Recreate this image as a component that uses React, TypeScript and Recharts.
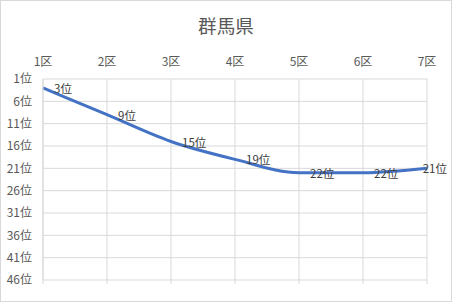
import React from 'react';
import { LineChart, Line, XAxis, YAxis, CartesianGrid, LabelList } from 'recharts';

const categories = ['1区', '2区', '3区', '4区', '5区', '6区', '7区'];
const ranks = [3, 9, 15, 19, 22, 22, 21];
const yTicks = [1, 6, 11, 16, 21, 26, 31, 36, 41, 46];
const title = '群馬県';

const data = categories.map((c, i) => ({ name: c, rank: ranks[i] }));

const FONT = '"Noto Sans CJK JP", "Noto Sans", sans-serif';

export default function App() {
  return (
    <div style={{ position: 'absolute', left: 0, top: 0, width: 452, height: 302, background: '#fff', fontFamily: FONT }}>
      <LineChart width={452} height={302} data={data} margin={{ top: 45, right: 25, bottom: 12, left: 0 }}>
        <CartesianGrid stroke="#d9d9d9" strokeWidth={1} />
        <XAxis
          dataKey="name"
          orientation="top"
          height={34}
          axisLine={false}
          tickLine={false}
          tickSize={0}
          tickMargin={13}
          interval={0}
          tick={{ fill: '#595959', fontSize: 12 }}
        />
        <XAxis
          dataKey="name"
          xAxisId="bottom"
          orientation="bottom"
          height={10}
          axisLine={false}
          tickLine={{ stroke: '#d9d9d9' }}
          tickSize={4}
          interval={0}
          tickFormatter={() => ''}
        />
        <YAxis
          type="number"
          domain={[1, 46]}
          reversed
          ticks={yTicks}
          interval={0}
          width={43}
          axisLine={{ stroke: '#d9d9d9' }}
          tickLine={false}
          tickSize={0}
          tickMargin={11}
          tickFormatter={(v: number) => `${v}位`}
          tick={{ fill: '#595959', fontSize: 12 }}
        />
        <Line
          type="monotone"
          dataKey="rank"
          stroke="#4472C4"
          strokeWidth={3}
          dot={false}
          isAnimationActive={false}
        >
          <LabelList
            dataKey="rank"
            content={(p: any) => {
              const txt = `${p.value}位`;
              const est = String(p.value).length * 6.4 + 11.5;
              const x = Math.min(p.x + 11, 447 - est);
              return (
                <text x={x} y={p.y} dominantBaseline="central" fontSize={11.5} fill="#404040">
                  {txt}
                </text>
              );
            }}
          />
        </Line>
      </LineChart>
      <div style={{ position: 'absolute', left: 0, top: 12, width: 452, textAlign: 'center', fontSize: 18.67, color: '#595959', lineHeight: '26px' }}>
        {title}
      </div>
      <div style={{ position: 'absolute', left: 0, top: 0, width: 452, height: 302, boxSizing: 'border-box', border: '1px solid #d9d9d9', pointerEvents: 'none' }} />
    </div>
  );
}
